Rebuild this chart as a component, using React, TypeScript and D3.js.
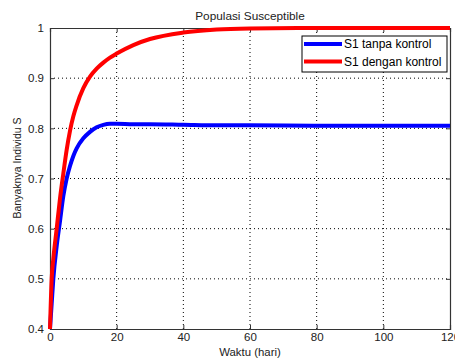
import React, { useRef, useEffect } from "react";
import * as d3 from "d3";

// time (days) sampled along the curves
const times = [0, 0.5, 1, 2, 3, 4, 5, 6, 7, 8, 10, 12, 14, 16, 18, 20, 25, 30, 40, 50, 60, 80, 100, 120];
const tanpaKontrol = [0.4, 0.45, 0.5, 0.565, 0.615, 0.665, 0.7, 0.725, 0.745, 0.76, 0.78, 0.793, 0.802, 0.807, 0.809, 0.809, 0.808, 0.808, 0.807, 0.806, 0.806, 0.805, 0.805, 0.805];
const denganKontrol = [0.4, 0.5, 0.54, 0.6, 0.66, 0.71, 0.757, 0.795, 0.824, 0.846, 0.88, 0.903, 0.919, 0.931, 0.941, 0.949, 0.966, 0.978, 0.991, 0.997, 0.999, 1.0, 1.0, 1.0];
const xTicks = [0, 20, 40, 60, 80, 100, 120];
const yTicks = [0.4, 0.5, 0.6, 0.7, 0.8, 0.9, 1];
const seriesNames = ["S1 tanpa kontrol", "S1 dengan kontrol"];
const seriesColors = ["#0000ff", "#ff0000"];

const W = 455, H = 358;
const margin = { top: 28, right: 5, bottom: 29, left: 50 };

const App = () => {
  const svgRef = useRef<SVGSVGElement>(null);

  useEffect(() => {
    const svg = d3.select(svgRef.current);
    svg.selectAll("*").remove();
    const width = W - margin.left - margin.right;
    const height = H - margin.top - margin.bottom;
    const font = "'Liberation Sans', Arial, sans-serif";

    const x = d3.scaleLinear().domain([0, 120]).range([0, width]);
    const y = d3.scaleLinear().domain([0.4, 1]).range([height, 0]);

    svg.append("rect").attr("width", W).attr("height", H).attr("fill", "#fff");

    const g = svg.append("g").attr("transform", `translate(${margin.left},${margin.top})`);

    // grid
    g.append("g")
      .selectAll("line")
      .data(xTicks.slice(1, -1))
      .enter()
      .append("line")
      .attr("x1", d => x(d)).attr("x2", d => x(d))
      .attr("y1", 0).attr("y2", height)
      .attr("stroke", "#000").attr("stroke-width", 1)
      .attr("stroke-dasharray", "1,3");
    g.append("g")
      .selectAll("line")
      .data(yTicks.slice(1, -1))
      .enter()
      .append("line")
      .attr("x1", 0).attr("x2", width)
      .attr("y1", d => y(d)).attr("y2", d => y(d))
      .attr("stroke", "#000").attr("stroke-width", 1)
      .attr("stroke-dasharray", "1,3");

    // axes (matlab-style inward ticks)
    const xAxis = g.append("g")
      .attr("transform", `translate(0,${height})`)
      .call(d3.axisBottom(x).tickValues(xTicks).tickSize(-4).tickPadding(4).tickFormat(d3.format("d")));
    const yAxis = g.append("g")
      .call(d3.axisLeft(y).tickValues(yTicks).tickSize(-4).tickPadding(6).tickFormat(d => (d === 1 ? "1" : d3.format(".1f")(d as number))));
    const xTop = g.append("g").call(d3.axisTop(x).tickValues(xTicks).tickSize(-4).tickFormat(() => ""));
    const yRight = g.append("g").attr("transform", `translate(${width},0)`)
      .call(d3.axisRight(y).tickValues(yTicks).tickSize(-4).tickFormat(() => ""));
    [xAxis, yAxis, xTop, yRight].forEach(a => {
      a.selectAll("path").attr("stroke", "#333").attr("stroke-width", 1.2);
      a.selectAll("line").attr("stroke", "#333");
      a.selectAll("text").attr("fill", "#222").style("font-family", font).style("font-size", "11.5px");
    });

    // lines
    const line = d3.line<number>()
      .x((_, i) => x(times[i]))
      .y(d => y(d))
      .curve(d3.curveMonotoneX);
    [tanpaKontrol, denganKontrol].forEach((vals, i) => {
      g.append("path")
        .datum(vals)
        .attr("fill", "none")
        .attr("stroke", seriesColors[i])
        .attr("stroke-width", 4)
        .attr("stroke-linejoin", "round")
        .attr("d", line);
    });

    // legend
    const lg = g.append("g").attr("transform", `translate(${width - 148},8)`);
    lg.append("rect").attr("width", 145).attr("height", 36)
      .attr("fill", "#fff").attr("stroke", "#000").attr("stroke-width", 1);
    seriesNames.forEach((name, i) => {
      const yy = 8 + i * 17.5;
      lg.append("line").attr("x1", 2).attr("x2", 40).attr("y1", yy).attr("y2", yy)
        .attr("stroke", seriesColors[i]).attr("stroke-width", 4);
      lg.append("text").attr("x", 42).attr("y", yy + 4.3)
        .style("font-family", font).style("font-size", "12px").attr("fill", "#000")
        .text(name);
    });

    // titles
    svg.append("text")
      .attr("x", margin.left + width / 2).attr("y", 20)
      .attr("text-anchor", "middle")
      .style("font-family", font).style("font-size", "11.8px").attr("fill", "#222")
      .text("Populasi Susceptible");
    svg.append("text")
      .attr("x", margin.left + width / 2).attr("y", H - 2)
      .attr("text-anchor", "middle")
      .style("font-family", font).style("font-size", "11.4px").attr("fill", "#222")
      .text("Waktu (hari)");
    svg.append("text")
      .attr("transform", "rotate(-90)")
      .attr("x", -168).attr("y", 21)
      .attr("text-anchor", "middle")
      .style("font-family", font).style("font-size", "10.5px").attr("fill", "#222")
      .text("Banyaknya Individu S");
  }, []);

  return (
    <svg ref={svgRef} width={W} height={H}
      style={{ position: "absolute", left: 0, top: 0, display: "block" }} />
  );
};

export default App;
